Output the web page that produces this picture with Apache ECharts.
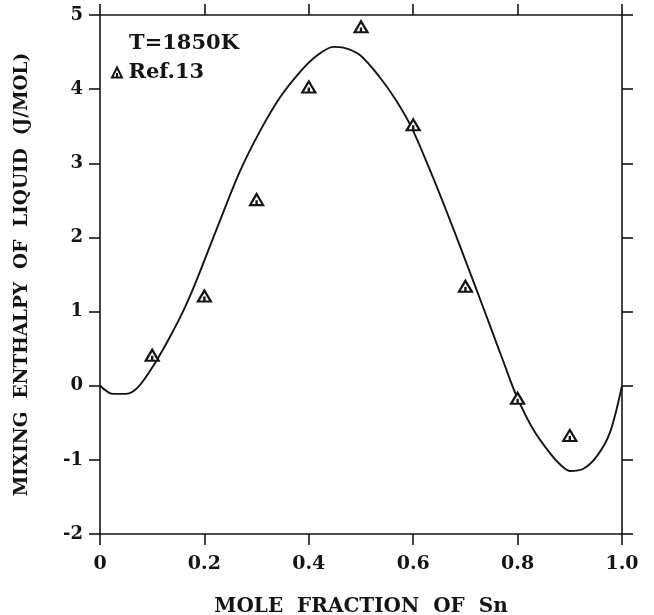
<!DOCTYPE html>
<html><head><meta charset="utf-8">
<script src="https://cdn.jsdelivr.net/npm/echarts@6/dist/echarts.min.js"></script>
<style>html,body{margin:0;padding:0;background:#fff}#c{width:654px;height:615px}</style>
</head><body><div id="c"></div>
<script>
// Measured points (Ref.13)
const refX = [0.1, 0.2, 0.3, 0.4, 0.5, 0.6, 0.7, 0.8, 0.9];
const refY = [0.41, 1.21, 2.51, 4.03, 4.84, 3.52, 1.34, -0.17, -0.67];
// Calculated curve
const curveX = [0, 0.025, 0.05, 0.073, 0.105, 0.138, 0.163, 0.182, 0.2, 0.23, 0.268, 0.307, 0.345, 0.383, 0.415, 0.447, 0.466, 0.498, 0.536, 0.568, 0.597, 0.632, 0.664, 0.692, 0.72, 0.745, 0.772, 0.798, 0.83, 0.862, 0.881, 0.9, 0.926, 0.952, 0.977, 1.0];
const curveY = [0.0, -0.11, -0.11, -0.02, 0.3, 0.71, 1.06, 1.37, 1.69, 2.23, 2.89, 3.44, 3.89, 4.23, 4.45, 4.57, 4.56, 4.46, 4.16, 3.84, 3.48, 2.91, 2.35, 1.84, 1.32, 0.85, 0.34, -0.14, -0.59, -0.91, -1.06, -1.15, -1.12, -0.95, -0.63, 0.0];
const xTickLabels = ['0', '0.2', '0.4', '0.6', '0.8', '1.0'];
const yTickLabels = ['-2', '-1', '0', '1', '2', '3', '4', '5'];
const xTitle = 'MOLE  FRACTION  OF  Sn';
const yTitle = 'MIXING  ENTHALPY  OF  LIQUID  (J/MOL)';
const tempLabel = 'T=1850K';
const refName = 'Ref.13';

const ink = '#141414';
const font = 'DejaVu Serif';
const triPath = 'path://M0,10 L5,0 L10,10 Z M5,5.5 L5,10';

const chart = echarts.init(document.getElementById('c'), null, {renderer: 'canvas'});
const axisCommon = {
  type: 'value',
  axisLine: {show: true, onZero: false, lineStyle: {color: ink, width: 1.6}},
  axisTick: {show: true, inside: false, length: 11, lineStyle: {color: ink, width: 1.6}},
  splitLine: {show: false}
};
chart.setOption({
  animation: false,
  backgroundColor: '#fff',
  grid: {left: 100, right: 32, top: 15, bottom: 81, containLabel: false, outerBoundsMode: 'none'},
  legend: {
    show: true, left: 106, top: 57, orient: 'vertical',
    itemWidth: 11, itemHeight: 10, itemGap: 4,
    data: [{name: refName, icon: triPath, itemStyle: {color: '#fff', borderColor: ink, borderWidth: 2}}],
    textStyle: {fontFamily: font, fontWeight: 'bold', fontSize: 21, color: ink, padding: [0, 0, 0, 1]}
  },
  graphic: [{
    type: 'text', left: 129, top: 33,
    style: {text: tempLabel, fontFamily: font, fontWeight: 'bold', fontSize: 21, fill: ink}
  }],
  xAxis: [
    Object.assign({}, axisCommon, {
      position: 'bottom', min: 0, max: 1, interval: 0.2,
      name: xTitle, nameLocation: 'middle', nameGap: 63,
      nameTextStyle: {fontFamily: font, fontWeight: 'bold', fontSize: 20, color: ink},
      axisLabel: {show: true, margin: 21, fontFamily: font, fontWeight: 'bold', fontSize: 19, color: ink,
        formatter: (v) => xTickLabels[Math.round(v / 0.2)]}
    }),
    Object.assign({}, axisCommon, {
      position: 'top', min: 0, max: 1, interval: 0.2, axisLabel: {show: false}
    })
  ],
  yAxis: [
    Object.assign({}, axisCommon, {
      position: 'left', min: -2, max: 5, interval: 1,
      name: yTitle, nameLocation: 'middle', nameGap: 68, nameRotate: 90,
      nameTextStyle: {fontFamily: font, fontWeight: 'bold', fontSize: 18.5, color: ink},
      axisLabel: {show: true, margin: 17, fontFamily: font, fontWeight: 'bold', fontSize: 18, color: ink,
        formatter: (v) => yTickLabels[Math.round(v + 2)]}
    }),
    Object.assign({}, axisCommon, {
      position: 'right', min: -2, max: 5, interval: 1, axisLabel: {show: false}
    })
  ],
  series: [
    {
      name: 'calc', type: 'line', xAxisIndex: 0, yAxisIndex: 0,
      data: curveX.map((x, i) => [x, curveY[i]]),
      smooth: 0.3, showSymbol: false, symbol: 'none',
      lineStyle: {color: ink, width: 1.9}, z: 2
    },
    {
      name: refName, type: 'scatter', xAxisIndex: 0, yAxisIndex: 0,
      data: refX.map((x, i) => [x, refY[i]]),
      symbol: triPath, symbolSize: [13, 11],
      itemStyle: {color: '#fff', borderColor: ink, borderWidth: 2.2, opacity: 1}, z: 3
    }
  ]
});
</script></body></html>
